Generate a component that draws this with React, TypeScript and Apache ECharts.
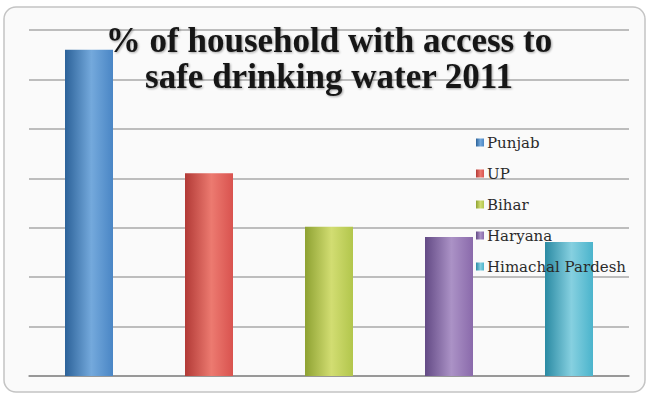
import React, { useEffect, useRef } from "react";
import * as echarts from "echarts";

const categories = ["Punjab", "UP", "Bihar", "Haryana", "Himachal Pardesh"];
const values = [66, 41, 30.2, 28.1, 27.1];
const baseColors = ["#4a86c5", "#d9534f", "#b2c64c", "#8a6aab", "#4bb4cc"];
const edgeColors = ["#2c6299", "#b23a36", "#8ea232", "#634a85", "#2a8aa3"];
const lightColors = ["#74a9dc", "#ec7a70", "#d2dd72", "#ab92c6", "#86d0e0"];

const titleText = "% of household with access to\nsafe drinking water 2011";

function grad(i: number) {
  return new echarts.graphic.LinearGradient(0, 0, 1, 0, [
    { offset: 0, color: edgeColors[i] },
    { offset: 0.55, color: lightColors[i] },
    { offset: 1, color: baseColors[i] },
  ]);
}

export default function App() {
  const ref = useRef<HTMLDivElement>(null);
  useEffect(() => {
    const chart = echarts.init(ref.current!, null, { renderer: "svg" });
    chart.setOption({
      animation: false,
      backgroundColor: "#ffffff",
      graphic: [
        {
          type: "rect",
          z: -10,
          shape: { x: 4, y: 7, width: 641, height: 385, r: 12 },
          style: { fill: "#fafafa", stroke: "#c4c4c4", lineWidth: 1.5 },
        },
        {
          type: "text",
          z: 10,
          x: 329,
          y: 22,
          style: {
            text: titleText,
            fontFamily: "Liberation Serif",
            fontWeight: "bold",
            fontSize: 35,
            lineHeight: 36,
            align: "center",
            verticalAlign: "top",
            fill: "#151515",
            textShadowColor: "rgba(0,0,0,0.35)",
            textShadowBlur: 2,
            textShadowOffsetX: 1,
            textShadowOffsetY: 1,
          },
        },
      ],
      legend: {
        orient: "vertical",
        left: 471,
        top: 130,
        itemGap: 16,
        itemWidth: 8,
        itemHeight: 8,
        icon: "rect",
        z: 20,
        data: categories,
        textStyle: {
          fontFamily: "DejaVu Serif",
          fontSize: 15,
          color: "#2a2a2a",
          padding: [0, 0, 0, -2],
        },
      },
      grid: { left: 29, right: 21, top: 30, bottom: 18 },
      xAxis: {
        type: "category",
        data: categories,
        axisLabel: { show: false },
        axisTick: { show: false },
        axisLine: { show: true, lineStyle: { color: "#8c8c8c", width: 1.5 } },
      },
      yAxis: {
        type: "value",
        min: 0,
        max: 70,
        interval: 10,
        axisLabel: { show: false },
        axisLine: { show: false },
        axisTick: { show: false },
        splitLine: { lineStyle: { color: "#a8a8a8", width: 1.5 } },
      },
      series: categories.map((name, i) => ({
        type: "bar",
        name,
        stack: "all",
        barWidth: 48,
        itemStyle: { color: grad(i) },
        data: categories.map((_, j) => (j === i ? values[i] : "-")),
      })),
      color: baseColors,
    });
    return () => chart.dispose();
  }, []);
  return (
    <div
      ref={ref}
      style={{ position: "fixed", left: 0, top: 0, width: 650, height: 394 }}
    />
  );
}
